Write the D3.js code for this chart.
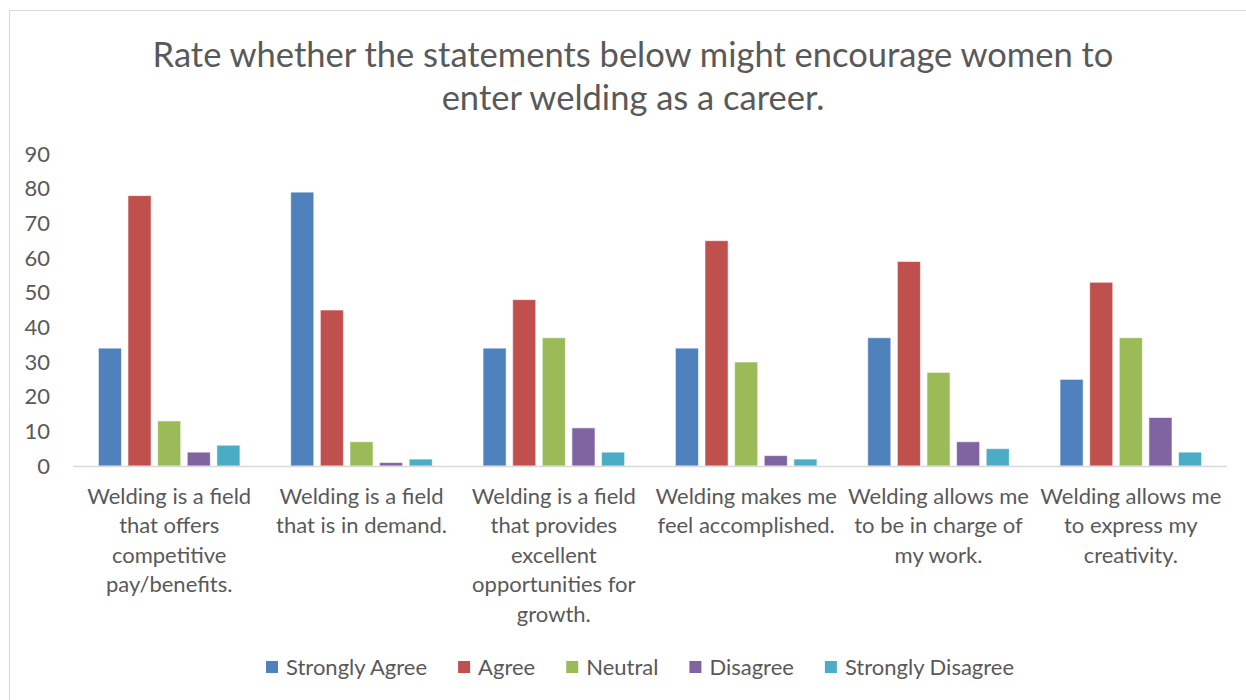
<!DOCTYPE html>
<html>
<head>
<meta charset="utf-8">
<script src="https://cdn.jsdelivr.net/npm/d3@7"></script>
<style>
  html, body { margin: 0; padding: 0; background: #fff; }
  svg { display: block; }
  text { font-family: Lato, "Open Sans", sans-serif; fill: #595959; }
</style>
</head>
<body>
<svg id="chart" width="1246" height="700"></svg>
<script>
// Survey responses per statement
const categories = [
  "Welding is a field\nthat offers\ncompetitive\npay/benefits.",
  "Welding is a field\nthat is in demand.",
  "Welding is a field\nthat provides\nexcellent\nopportunities for\ngrowth.",
  "Welding makes me\nfeel accomplished.",
  "Welding allows me\nto be in charge of\nmy work.",
  "Welding allows me\nto express my\ncreativity."
];
const seriesNames = ["Strongly Agree", "Agree", "Neutral", "Disagree", "Strongly Disagree"];
const stronglyAgree    = [34, 79, 34, 34, 37, 25];
const agree            = [78, 45, 48, 65, 59, 53];
const neutral          = [13, 7, 37, 30, 27, 37];
const disagree         = [4, 1, 11, 3, 7, 14];
const stronglyDisagree = [6, 2, 4, 2, 5, 4];
const seriesColors = ["#4f81bd", "#c0504d", "#9bbb59", "#8064a2", "#4bacc6"];
const yTicks = [0, 10, 20, 30, 40, 50, 60, 70, 80, 90];
const titleLines = ["Rate whether the statements below might encourage women to", "enter welding as a career."];

const seriesValues = [stronglyAgree, agree, neutral, disagree, stronglyDisagree];
const labelSize = 22;

const svg = d3.select("#chart");

// chart frame
svg.append("rect")
  .attr("x", 9.5).attr("y", 10.5)
  .attr("width", 1260).attr("height", 720)
  .attr("fill", "#fff").attr("stroke", "#d9d9d9").attr("stroke-width", 1);

// title
svg.append("g").selectAll("text")
  .data(titleLines).join("text")
  .attr("x", 633).attr("y", (d, i) => 67 + i * 43)
  .attr("text-anchor", "middle")
  .attr("font-size", 34.5)
  .text(d => d);

const plot = { left: 73, right: 1227, top: 154, bottom: 466 };

const y = d3.scaleLinear().domain([0, 90]).range([plot.bottom, plot.top]);
const x0 = d3.scaleBand().domain(d3.range(categories.length))
  .range([plot.left, plot.right]).paddingInner(0.23).paddingOuter(0.115);
const x1 = d3.scaleBand().domain(d3.range(seriesNames.length))
  .range([0, x0.bandwidth()]).paddingInner(0.22).paddingOuter(0.11);

// y axis labels
const yAxis = svg.append("g")
  .attr("transform", `translate(${plot.left - 23},0)`)
  .call(d3.axisLeft(y).tickValues(yTicks).tickSize(0).tickPadding(0));
yAxis.select(".domain").remove();
yAxis.selectAll("text").attr("font-size", labelSize).attr("fill", "#595959")
  .style("font-family", 'Lato, "Open Sans", sans-serif');

// bars
const groups = svg.append("g").selectAll("g")
  .data(categories.map((c, i) => i)).join("g")
  .attr("transform", i => `translate(${x0(i)},0)`);

groups.selectAll("rect")
  .data(i => seriesValues.map((vals, s) => ({ s, v: vals[i] })))
  .join("rect")
  .attr("x", d => x1(d.s))
  .attr("y", d => y(d.v))
  .attr("width", x1.bandwidth())
  .attr("height", d => y(0) - y(d.v))
  .attr("fill", d => seriesColors[d.s])
  .attr("stroke", "#ffffff").attr("stroke-opacity", 0.6).attr("stroke-width", 1);

// baseline
svg.append("line")
  .attr("x1", plot.left).attr("x2", plot.right)
  .attr("y1", plot.bottom + 0.5).attr("y2", plot.bottom + 0.5)
  .attr("stroke", "#d9d9d9").attr("stroke-width", 1.5);

// category labels
const xLab = svg.append("g").selectAll("text")
  .data(categories).join("text")
  .attr("x", (d, i) => x0(i) + x0.bandwidth() / 2)
  .attr("y", 504)
  .attr("text-anchor", "middle")
  .attr("font-size", labelSize);
xLab.selectAll("tspan")
  .data(d => d.split("\n")).join("tspan")
  .attr("x", function () { return this.parentNode.getAttribute("x"); })
  .attr("dy", (d, i) => i === 0 ? 0 : 29.4)
  .text(d => d);

// legend
const legend = svg.append("g").attr("transform", "translate(0,667)");
let lx = 266;
seriesNames.forEach((name, i) => {
  const g = legend.append("g").attr("transform", `translate(${lx},0)`);
  g.append("rect").attr("x", 0).attr("y", -6).attr("width", 12).attr("height", 12)
    .attr("fill", seriesColors[i]);
  const t = g.append("text").attr("x", 20).attr("y", 8).attr("font-size", labelSize).text(name);
  lx += 20 + t.node().getComputedTextLength() + 31;
});
</script>
</body>
</html>
